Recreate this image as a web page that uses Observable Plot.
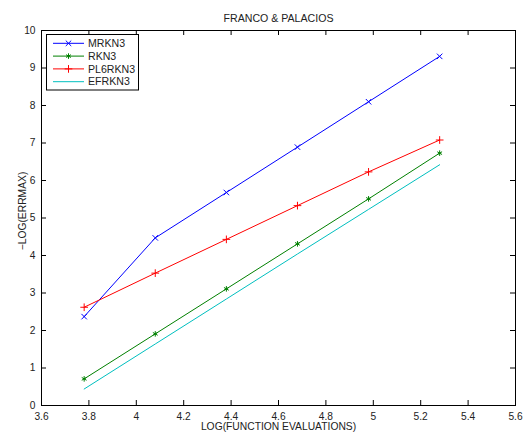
<!DOCTYPE html>
<html>
<head>
<meta charset="utf-8">
<script src="https://cdn.jsdelivr.net/npm/d3@7"></script>
<script src="https://cdn.jsdelivr.net/npm/@observablehq/plot@0.6"></script>
<style>
  html, body { margin: 0; padding: 0; background: #fff; }
  svg { display: block; }
</style>
</head>
<body>
<div id="chart"></div>
<script>
// ---- data ----
const title = "FRANCO & PALACIOS";
const xLabel = "LOG(FUNCTION EVALUATIONS)";
const yLabel = "\u2212LOG(ERRMAX)";
const xValues = [3.78, 4.08, 4.38, 4.68, 4.98, 5.28];
const seriesNames = ["MRKN3", "RKN3", "PL6RKN3", "EFRKN3"];
const mrkn3 = [2.37, 4.47, 5.68, 6.89, 8.10, 9.31];
const rkn3 = [0.71, 1.91, 3.11, 4.31, 5.51, 6.73];
const pl6rkn3 = [2.62, 3.53, 4.43, 5.33, 6.23, 7.08];
const efrkn3 = [0.44, 1.64, 2.84, 4.04, 5.23, 6.42];
const xTicks = [3.6, 3.8, 4.0, 4.2, 4.4, 4.6, 4.8, 5.0, 5.2, 5.4, 5.6];
const yTicks = [0, 1, 2, 3, 4, 5, 6, 7, 8, 9, 10];

// ---- styles ----
const colors = {MRKN3: "#0000ff", RKN3: "#008000", PL6RKN3: "#ff0000", EFRKN3: "#00bfbf"};
const symbols = {MRKN3: "times", RKN3: "asterisk", PL6RKN3: "plus", EFRKN3: null};
const font = "'Liberation Sans', Arial, Helvetica, sans-serif";

const seriesValues = [mrkn3, rkn3, pl6rkn3, efrkn3];
const rows = [];
seriesNames.forEach((name, i) => {
  seriesValues[i].forEach((v, j) => rows.push({series: name, x: xValues[j], y: v}));
});

const W = 524, H = 432;
const mt = 30, mb = 27, ml = 41, mr = 9;
const fw = W - ml - mr, fh = H - mt - mb;
const tl = 5;
const mr_ = 2.6; // marker radius

const fmt = d => String(+d.toFixed(1));

const marks = [
  Plot.tickX(xTicks, {x: d => d, stroke: "black", insetTop: fh - tl}),
  Plot.tickX(xTicks, {x: d => d, stroke: "black", insetBottom: fh - tl}),
  Plot.tickY(yTicks, {y: d => d, stroke: "black", insetRight: fw - tl}),
  Plot.tickY(yTicks, {y: d => d, stroke: "black", insetLeft: fw - tl}),
  Plot.axisX(xTicks, {tickSize: 0, tickPadding: 7, tickFormat: fmt, label: null, fontSize: 10.2}),
  Plot.axisY(yTicks, {tickSize: 0, tickPadding: 6, tickFormat: fmt, label: null, fontSize: 10.2}),
];
seriesNames.forEach(name => {
  const d = rows.filter(r => r.series === name);
  marks.push(Plot.line(d, {x: "x", y: "y", stroke: colors[name], strokeWidth: 1}));
  if (symbols[name]) {
    marks.push(Plot.dot(d, {x: "x", y: "y", stroke: colors[name], symbol: symbols[name], r: mr_, strokeWidth: 1}));
  }
});
marks.push(Plot.frame({stroke: "black", strokeWidth: 1}));
marks.push(Plot.text([title], {text: d => d, frameAnchor: "top", dy: -16, fontSize: 10.6, fill: "#222"}));
marks.push(Plot.text([xLabel], {text: d => d, frameAnchor: "bottom", dy: 24, fontSize: 10.3, fill: "#222"}));

const plot = Plot.plot({
  width: W, height: H,
  marginTop: mt, marginBottom: mb, marginLeft: ml, marginRight: mr,
  x: {domain: [3.6, 5.6]},
  y: {domain: [0, 10]},
  style: {fontFamily: font, fontSize: "10.2px", color: "#222", background: "white"},
  marks
});
document.getElementById("chart").appendChild(plot);

const svg = d3.select(plot);
// y-axis label
svg.append("text")
  .attr("transform", "translate(22,211) rotate(-90)")
  .attr("text-anchor", "middle").attr("dy", "0.35em")
  .attr("font-family", font).attr("font-size", 10.3).attr("fill", "#222")
  .text(yLabel);

// ---- legend (inside plot, upper left) ----
const lg = svg.append("g").attr("font-family", font).attr("font-size", 10.6).attr("text-anchor", "start");
const bx = 46.5, by = 34.5, bw = 92, bh = 55.5;
lg.append("rect").attr("x", bx).attr("y", by).attr("width", bw).attr("height", bh)
  .attr("fill", "white").attr("stroke", "black").attr("stroke-width", 1);
const symMap = {times: d3.symbolTimes, asterisk: d3.symbolAsterisk, plus: d3.symbolPlus};
seriesNames.forEach((name, i) => {
  const y = 43.3 + i * 12.8;
  lg.append("line").attr("x1", 53).attr("x2", 84).attr("y1", y).attr("y2", y)
    .attr("stroke", colors[name]).attr("stroke-width", 1);
  if (symbols[name]) {
    const s = symbols[name];
    const size = Math.PI * mr_ * mr_;
    lg.append("path").attr("d", d3.symbol(symMap[s], size)())
      .attr("transform", `translate(68.5,${y})`)
      .attr("fill", "none").attr("stroke", colors[name]).attr("stroke-width", 1);
  }
  lg.append("text").attr("x", 88).attr("y", y).attr("dy", "0.35em").attr("fill", "#222").text(name);
});
</script>
</body>
</html>
